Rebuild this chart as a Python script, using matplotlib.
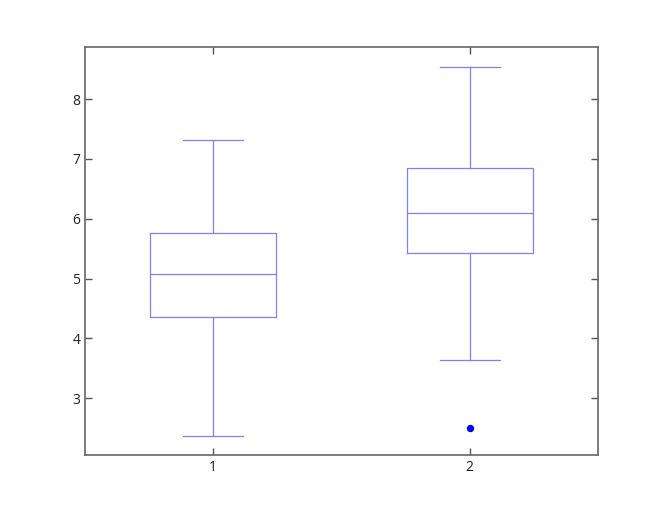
import matplotlib
matplotlib.use("Agg")
import matplotlib.pyplot as plt

# Statistiques des deux boîtes
positions = [1, 2]
medians = [5.07, 6.09]
q1 = [4.355, 5.425]
q3 = [5.76, 6.845]
whislo = [2.365, 3.635]
whishi = [7.315, 8.535]
fliers = [[], [2.50]]

stats = [dict(med=medians[i], q1=q1[i], q3=q3[i], whislo=whislo[i],
              whishi=whishi[i], fliers=fliers[i]) for i in range(len(positions))]

plt.rcParams['font.family'] = ['Open Sans', 'DejaVu Sans']

fig = plt.figure(figsize=(6.6, 5.25), dpi=100)
ax = fig.add_axes([85 / 660, 1 - 455 / 525, 513 / 660, 408 / 525])

line = dict(color='#8080ff', linewidth=0.9)
ax.bxp(stats, positions=positions, widths=0.49, showfliers=True,
       boxprops=line, whiskerprops=line, capprops=line, medianprops=line,
       flierprops=dict(marker='o', markerfacecolor='blue', markeredgecolor='blue',
                       markersize=4.3, linestyle='none'),
       capwidths=0.235)

ax.set_xlim(0.5, 2.5)
ax.set_ylim(2.05, 8.87)
ax.set_xticks(positions)
ax.set_xticklabels(['1', '2'])
ax.set_yticks([3, 4, 5, 6, 7, 8])

for s in ax.spines.values():
    s.set_color('#666666')
    s.set_linewidth(1.2)
ax.tick_params(direction='in', length=5, width=1, colors='#555555',
               labelcolor='#222222', labelsize=10,
               top=True, right=True)

fig.savefig('out.png', dpi=100)
